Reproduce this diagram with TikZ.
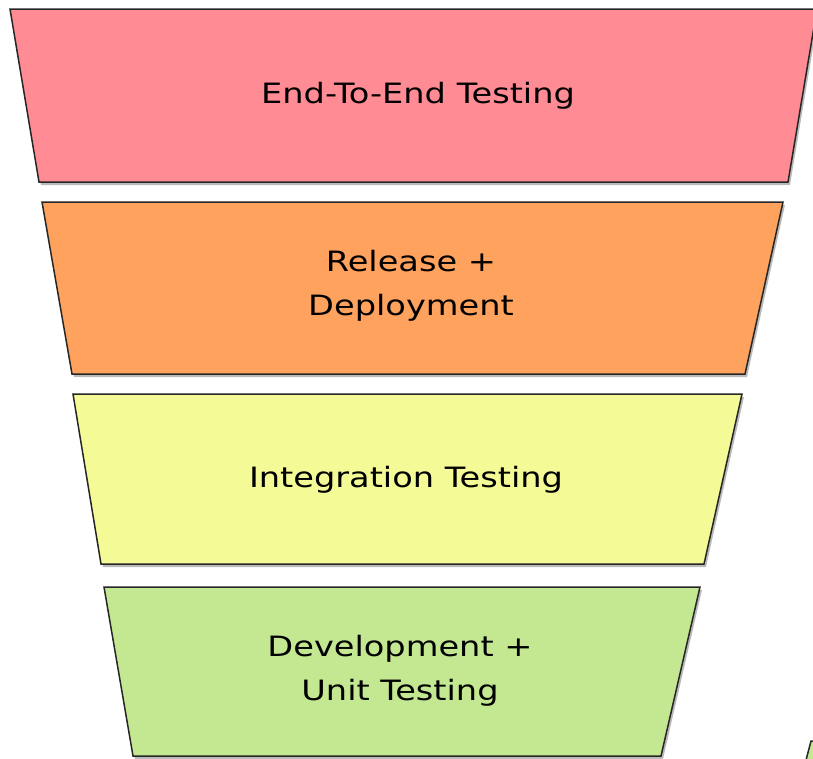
\documentclass[tikz,border=0pt]{standalone}
\usepackage{fontspec}
\setmainfont{DejaVu Sans}[FakeStretch=1.2]
\usetikzlibrary{shadows}
\definecolor{pinkfill}{RGB}{255,140,148}
\definecolor{orangefill}{RGB}{255,162,94}
\definecolor{yellowfill}{RGB}{244,250,150}
\definecolor{greenfill}{RGB}{196,232,145}
\begin{document}
\begin{tikzpicture}[x=1pt,y=-1pt,
  layer/.style={draw=black!85, line width=1.5pt, line join=miter,
    drop shadow={shadow xshift=2pt, shadow yshift=-3pt, opacity=0.45, fill=black!60}},
  label/.style={font=\fontsize{28}{44}\selectfont, align=center, text=black}]
\useasboundingbox (0,0) rectangle (813,758);
\begin{scope}
\clip (0,0) rectangle (813,758);
\path[layer, fill=pinkfill] (10,9) -- (817,9) -- (788,182) -- (39,182) -- cycle;
\path[layer, fill=orangefill] (42,202) -- (783,202) -- (745,374) -- (72,374) -- cycle;
\path[layer, fill=yellowfill] (73,394) -- (742,394) -- (704,564) -- (101,564) -- cycle;
\path[layer, fill=greenfill] (104,587) -- (700,587) -- (661,756) -- (133,756) -- cycle;
\path[draw=black!85, line width=1.5pt, fill=greenfill] (806,760) -- (811,741) -- (820,741) -- (820,760) -- cycle;
\end{scope}
\node[label] (e2e) at (418,96) {End-To-End Testing};
\node[label] (rel) at (411,286) {Release +\\Deployment};
\node[label] (int) at (406,480) {Integration Testing};
\node[label] (dev) at (400,671) {Development +\\Unit Testing};
\end{tikzpicture}
\end{document}
